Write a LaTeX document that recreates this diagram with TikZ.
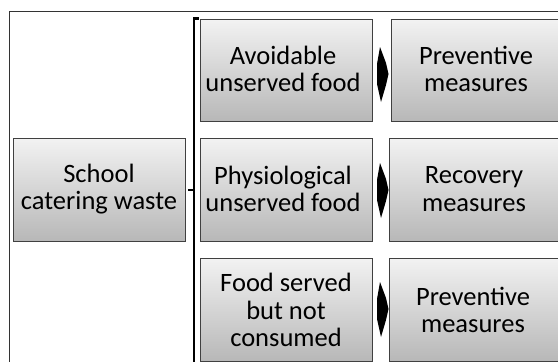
\documentclass[tikz,border=0pt]{standalone}
\usepackage{fontspec}
\setmainfont{Carlito}
\begin{document}
\begin{tikzpicture}[x=1pt,y=-1pt,
  box/.style={draw=black!75,line width=0.9pt,top color=black!5,bottom color=black!28,shading angle=0},
  lbl/.style={font=\fontsize{26.5}{27.5}\selectfont,align=center,inner sep=0pt},
  chev/.style={fill=black,draw=none}]
\useasboundingbox (0,0) rectangle (558,362);
\draw[black!80,line width=0.8pt] (9,11) rectangle (575,380);
% boxes
\path[box] (13,138) rectangle (185,241);
\node[lbl] (school) at (99,189) {School\\catering waste};
\path[box] (200,19) rectangle (372,121);
\node[lbl] (avoid) at (283,69) {Avoidable\\unserved food};
\path[box] (200,138) rectangle (372,241);
\node[lbl] (phys) at (283,189) {Physiological\\unserved food};
\path[box] (200,258) rectangle (372,361);
\node[lbl] (served) at (286,310) {Food served\\but not\\consumed};
\path[box] (391,19) rectangle (562,121);
\node[lbl] (prev1) at (476,69) {Preventive\\measures};
\path[box] (389,138) rectangle (562,241);
\node[lbl] (recov) at (474,189) {Recovery\\measures};
\path[box] (389,258) rectangle (562,361);
\node[lbl] (prev2) at (473,310) {Preventive\\measures};
% bracket
\draw[black,line width=2.6pt,line cap=butt] (198.5,18.5) -- (194,18.5) -- (194,370);
\draw[black,line width=1.2pt] (188,190) -- (194,190);
% arrows
\foreach \c in {74,190,309}{
  \fill[chev] (380,\c-27) -- (386,\c-11) -- (388.5,\c) -- (386,\c+11) -- (381,\c+28) -- (377,\c+10) -- (377,\c-10) -- cycle;
}
\end{tikzpicture}
\end{document}
